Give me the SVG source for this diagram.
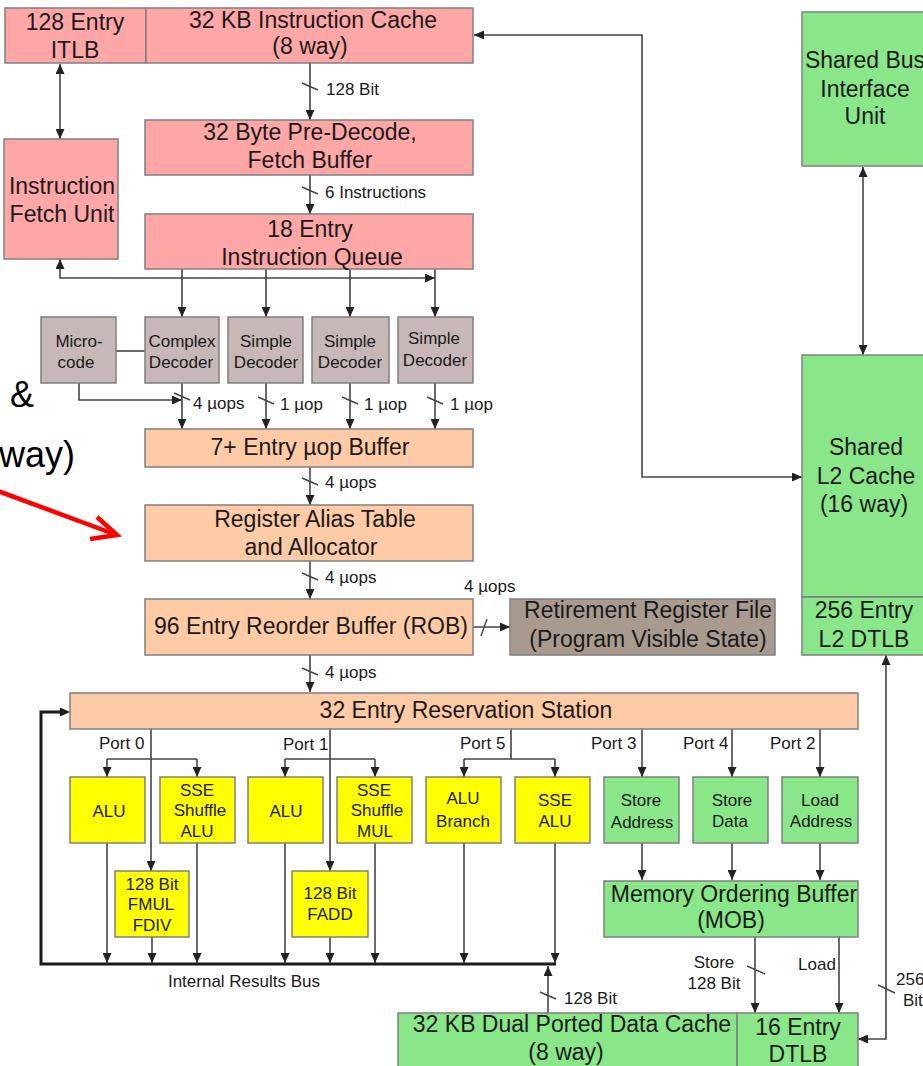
<svg xmlns="http://www.w3.org/2000/svg" width="923" height="1066" viewBox="0 0 923 1066">
<defs>
<marker id="ah" viewBox="0 0 10 9" refX="10" refY="4.5" markerWidth="10" markerHeight="9" markerUnits="userSpaceOnUse" orient="auto-start-reverse"><path d="M0,0 L10,4.5 L0,9 z" fill="#222"/></marker>
</defs>
<style>
.box{stroke:#7f7f7f;stroke-width:1.5}
.pink{fill:#ffa6a6}
.dec{fill:#c8b7b7}
.ora{fill:#ffcaa6}
.grn{fill:#89e689}
.yel{fill:#ffff00}
.rrf{fill:#a99a90}
text{font-family:"Liberation Sans",Arial,sans-serif;fill:#1a1a1a}
.L{font-size:23px;text-anchor:middle}
.S{font-size:17px}
.M{font-size:17px;text-anchor:middle}
.c{fill:none;stroke:#444;stroke-width:1.6}
.a{marker-end:url(#ah)}
.aa{marker-end:url(#ah);marker-start:url(#ah)}
.bus{fill:none;stroke:#1a1a1a;stroke-width:3}
.sl{stroke:#444;stroke-width:1.4}
.big{font-size:36px;fill:#000}
</style>
<rect width="923" height="1066" fill="#fff"/>

<g id="connectors">
<path class="c aa" d="M60,64 V139"/>
<path class="c a" d="M310,63 V120"/>
<path class="c a" d="M310,175 V214"/>
<path class="c aa" d="M60,259 V278 H435"/>
<path class="c a" d="M182,269 V317"/>
<path class="c a" d="M266,269 V317"/>
<path class="c a" d="M350,269 V317"/>
<path class="c a" d="M435,269 V317"/>
<path class="c" d="M116,351 H145"/>
<path class="c a" d="M79,383 V400 H182"/>
<path class="c a" d="M182,383 V429"/>
<path class="c a" d="M266,383 V429"/>
<path class="c a" d="M350,383 V429"/>
<path class="c a" d="M435,383 V429"/>
<path class="c a" d="M310,467 V505"/>
<path class="c a" d="M310,561 V599"/>
<path class="c a" d="M473,627 H510"/>
<path class="c a" d="M310,655 V692"/>
<path class="c aa" d="M474,35 H642 V477 H802"/>
<path class="c aa" d="M863,167 V355"/>
<path class="c a" d="M151,729 V871"/>
<path class="c a" d="M107,759 V777"/>
<path class="c a" d="M197,759 V777"/>
<path class="c" d="M107,759 H197"/>
<path class="c a" d="M330,729 V871"/>
<path class="c a" d="M285,759 V777"/>
<path class="c a" d="M375,759 V777"/>
<path class="c" d="M285,759 H375"/>
<path class="c" d="M511,729 V759 M464,759 H555"/>
<path class="c a" d="M464,759 V777"/>
<path class="c a" d="M555,759 V777"/>
<path class="c a" d="M642,729 V777"/>
<path class="c a" d="M732,729 V777"/>
<path class="c a" d="M820,729 V777"/>
<path class="c a" d="M642,843 V880"/>
<path class="c a" d="M732,843 V880"/>
<path class="c a" d="M820,843 V880"/>
<path class="c a" d="M107,843 V963"/>
<path class="c a" d="M152,937 V963"/>
<path class="c a" d="M197,843 V963"/>
<path class="c a" d="M285,843 V963"/>
<path class="c a" d="M330,937 V963"/>
<path class="c a" d="M375,843 V963"/>
<path class="c a" d="M464,843 V963"/>
<path class="c a" d="M555,843 V963"/>
<path class="bus" d="M556,964 H41 V712 H62"/>
<path d="M70,712 L60,707.5 L60,716.5 z" fill="#1a1a1a"/>
<path class="c a" d="M548,1013 V966"/>
<path class="c a" d="M755,937 V1013"/>
<path class="c a" d="M839,937 V1013"/>
<path class="c aa" d="M858,1039 H886 V655"/>
<line class="sl" x1="302" y1="83" x2="318" y2="90"/>
<line class="sl" x1="302" y1="187" x2="318" y2="194"/>
<line class="sl" x1="174" y1="393" x2="190" y2="400"/>
<line class="sl" x1="258" y1="397" x2="274" y2="404"/>
<line class="sl" x1="342" y1="397" x2="358" y2="404"/>
<line class="sl" x1="427" y1="397" x2="443" y2="404"/>
<line class="sl" x1="302" y1="478" x2="318" y2="485"/>
<line class="sl" x1="302" y1="573" x2="318" y2="580"/>
<line class="sl" x1="302" y1="668" x2="318" y2="675"/>
<line class="sl" x1="487" y1="619" x2="481" y2="636"/>
<line class="sl" x1="540" y1="992" x2="556" y2="999"/>
<line class="sl" x1="747" y1="966" x2="765" y2="974"/>
<line class="sl" x1="878" y1="985" x2="895" y2="993"/>
</g>

<g id="labels">
<text class="S" x="326" y="95">128 Bit</text>
<text class="S" x="325" y="198">6 Instructions</text>
<text class="S" x="193" y="409">4 µops</text>
<text class="S" x="280" y="410">1 µop</text>
<text class="S" x="364" y="410">1 µop</text>
<text class="S" x="450" y="410">1 µop</text>
<text class="S" x="325" y="488">4 µops</text>
<text class="S" x="325" y="583">4 µops</text>
<text class="S" x="464" y="592">4 µops</text>
<text class="S" x="325" y="678">4 µops</text>
<text class="S" x="99" y="749">Port 0</text>
<text class="S" x="283" y="750">Port 1</text>
<text class="S" x="460" y="749">Port 5</text>
<text class="S" x="591" y="749">Port 3</text>
<text class="S" x="683" y="749">Port 4</text>
<text class="S" x="770" y="749">Port 2</text>
<text class="M" x="244" y="987">Internal Results Bus</text>
<text class="S" x="564" y="1004">128 Bit</text>
<text class="M" x="714" y="968">Store</text>
<text class="M" x="714" y="989">128 Bit</text>
<text class="M" x="817" y="970">Load</text>
<text class="S" x="896" y="985" font-size="16">256</text>
<text class="S" x="903" y="1006" font-size="16">Bit</text>
</g>

<g id="itlb"><rect class="box pink" x="5" y="8" width="141" height="55"/>
<text class="L" x="75" y="30">128 Entry</text><text class="L" x="75" y="58">ITLB</text></g>
<g id="icache"><rect class="box pink" x="146" y="8" width="327" height="55"/>
<text class="L" x="313" y="28">32 KB Instruction Cache</text><text class="L" x="310" y="54">(8 way)</text></g>
<g id="predecode"><rect class="box pink" x="145" y="120" width="328" height="55"/>
<text class="L" x="310" y="140">32 Byte Pre-Decode,</text><text class="L" x="310" y="168">Fetch Buffer</text></g>
<g id="ifu"><rect class="box pink" x="4" y="139" width="114" height="120"/>
<text class="L" x="62" y="194">Instruction</text><text class="L" x="62" y="222">Fetch Unit</text></g>
<g id="iq"><rect class="box pink" x="145" y="214" width="328" height="55"/>
<text class="L" x="310" y="237">18 Entry</text><text class="L" x="312" y="265">Instruction Queue</text></g>

<g id="microcode"><rect class="box dec" x="41" y="317" width="75" height="66"/>
<text class="M" x="79" y="347">Micro-</text><text class="M" x="76" y="368">code</text></g>
<g id="complex"><rect class="box dec" x="145" y="317" width="74" height="66"/>
<text class="M" x="182" y="347">Complex</text><text class="M" x="181" y="368">Decoder</text></g>
<g id="simple1"><rect class="box dec" x="228" y="317" width="75" height="66"/>
<text class="M" x="266" y="347">Simple</text><text class="M" x="266" y="368">Decoder</text></g>
<g id="simple2"><rect class="box dec" x="312" y="317" width="77" height="66"/>
<text class="M" x="350" y="347">Simple</text><text class="M" x="350" y="368">Decoder</text></g>
<g id="simple3"><rect class="box dec" x="398" y="317" width="75" height="66"/>
<text class="M" x="434" y="344">Simple</text><text class="M" x="435" y="366">Decoder</text></g>

<g id="uopbuf"><rect class="box ora" x="145" y="429" width="328" height="38"/>
<text class="L" x="310" y="455">7+ Entry µop Buffer</text></g>
<g id="rat"><rect class="box ora" x="145" y="505" width="328" height="56"/>
<text class="L" x="315" y="527">Register Alias Table</text><text class="L" x="311" y="555">and Allocator</text></g>
<g id="rob"><rect class="box ora" x="145" y="599" width="328" height="56"/>
<text class="L" x="311" y="634">96 Entry Reorder Buffer (ROB)</text></g>
<g id="rrf"><rect class="box rrf" x="510" y="599" width="265" height="56"/>
<text class="L" x="648" y="618">Retirement Register File</text><text class="L" x="648" y="647">(Program Visible State)</text></g>

<g id="sbiu"><rect class="box grn" x="802" y="12" width="130" height="154"/>
<text class="L" x="865" y="68">Shared Bus</text><text class="L" x="865" y="97">Interface</text><text class="L" x="865" y="124">Unit</text></g>
<g id="l2"><rect class="box grn" x="802" y="355" width="130" height="242"/>
<text class="L" x="866" y="455">Shared</text><text class="L" x="866" y="484">L2 Cache</text><text class="L" x="864" y="512">(16 way)</text></g>
<g id="l2dtlb"><rect class="box grn" x="802" y="597" width="130" height="58"/>
<text class="L" x="864" y="618">256 Entry</text><text class="L" x="864" y="647">L2 DTLB</text></g>

<g id="rs"><rect class="box ora" x="70" y="693" width="788" height="36"/>
<text class="L" x="466" y="718">32 Entry Reservation Station</text></g>

<g id="alu0"><rect class="box yel" x="70" y="777" width="75" height="66"/>
<text class="M" x="109" y="817">ALU</text></g>
<g id="sseshufalu"><rect class="box yel" x="160" y="777" width="75" height="66"/>
<text class="M" x="197" y="796">SSE</text><text class="M" x="200" y="816">Shuffle</text><text class="M" x="197" y="837">ALU</text></g>
<g id="fmul"><rect class="box yel" x="115" y="871" width="74" height="66"/>
<text class="M" x="152" y="890">128 Bit</text><text class="M" x="151" y="910">FMUL</text><text class="M" x="152" y="931">FDIV</text></g>
<g id="alu1"><rect class="box yel" x="248" y="777" width="75" height="66"/>
<text class="M" x="286" y="817">ALU</text></g>
<g id="sseshufmul"><rect class="box yel" x="337" y="777" width="75" height="66"/>
<text class="M" x="374" y="796">SSE</text><text class="M" x="377" y="816">Shuffle</text><text class="M" x="375" y="837">MUL</text></g>
<g id="fadd"><rect class="box yel" x="292" y="871" width="76" height="66"/>
<text class="M" x="330" y="899">128 Bit</text><text class="M" x="330" y="920">FADD</text></g>
<g id="alubranch"><rect class="box yel" x="426" y="777" width="75" height="66"/>
<text class="M" x="463" y="804">ALU</text><text class="M" x="463" y="827">Branch</text></g>
<g id="ssealu"><rect class="box yel" x="515" y="777" width="75" height="66"/>
<text class="M" x="555" y="806">SSE</text><text class="M" x="555" y="827">ALU</text></g>
<g id="storeaddr"><rect class="box grn" x="604" y="777" width="75" height="66"/>
<text class="M" x="641" y="806">Store</text><text class="M" x="642" y="828">Address</text></g>
<g id="storedata"><rect class="box grn" x="693" y="777" width="75" height="66"/>
<text class="M" x="732" y="806">Store</text><text class="M" x="730" y="827">Data</text></g>
<g id="loadaddr"><rect class="box grn" x="782" y="777" width="76" height="66"/>
<text class="M" x="820" y="806">Load</text><text class="M" x="821" y="827">Address</text></g>
<g id="mob"><rect class="box grn" x="604" y="881" width="254" height="56"/>
<text class="L" x="734" y="902">Memory Ordering Buffer</text><text class="L" x="731" y="928">(MOB)</text></g>
<g id="dcache"><rect class="box grn" x="398" y="1013" width="339" height="60"/>
<text class="L" x="572" y="1032">32 KB Dual Ported Data Cache</text><text class="L" x="566" y="1060">(8 way)</text></g>
<g id="dtlb"><rect class="box grn" x="737" y="1013" width="121" height="60"/>
<text class="L" x="798" y="1035">16 Entry</text><text class="L" x="798" y="1062">DTLB</text></g>

<g id="overlay">
<text class="big" x="10" y="407" font-size="38">&amp;</text>
<text class="big" x="-1" y="467">way)</text>
<line x1="-2" y1="491" x2="114" y2="534" stroke="#ff0000" stroke-width="4.5"/>
<path d="M97,517 L117,535 L90,539" fill="none" stroke="#ff0000" stroke-width="4.5" stroke-linejoin="miter"/>
</g>
</svg>
